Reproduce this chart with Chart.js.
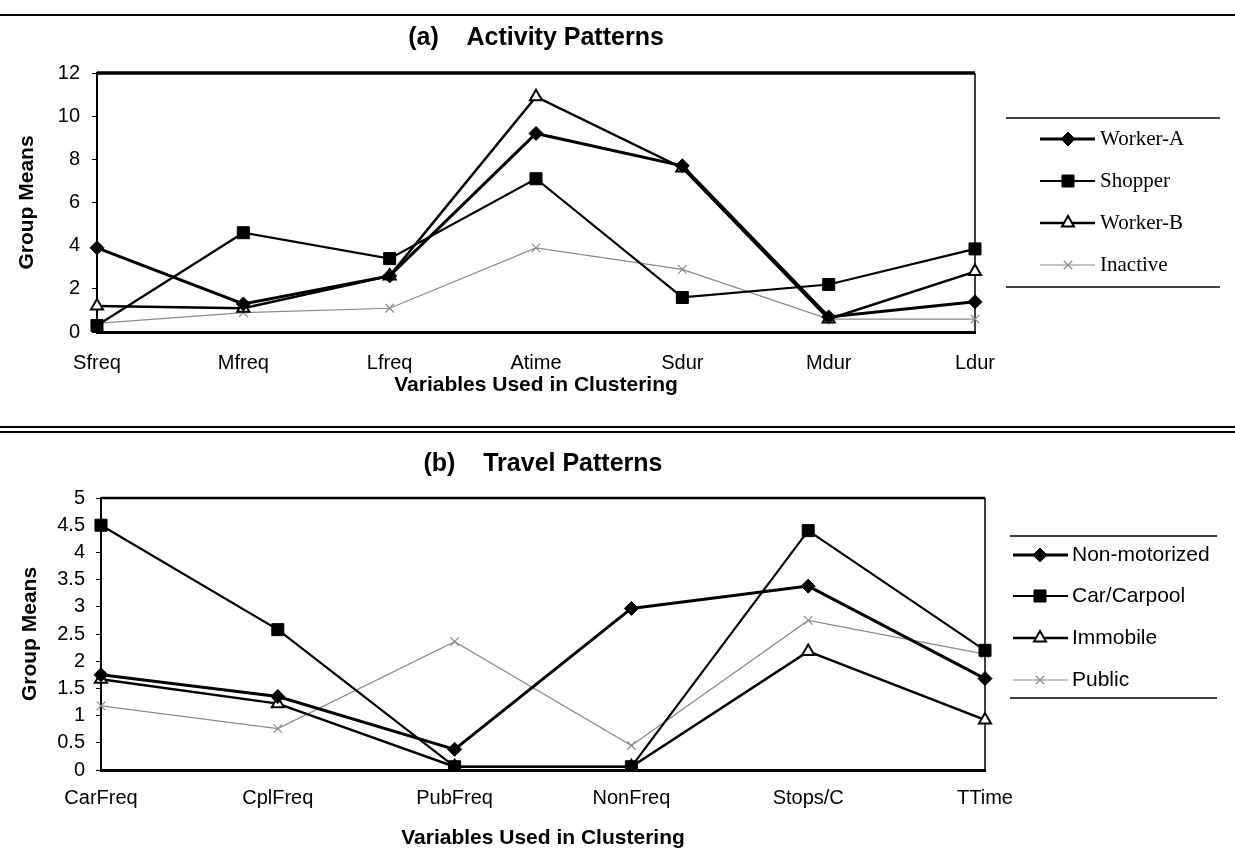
<!DOCTYPE html>
<html>
<head>
<meta charset="utf-8">
<script src="https://cdn.jsdelivr.net/npm/chart.js@4.4.0/dist/chart.umd.min.js"></script>
<style>
  body { margin: 0; background: #fff; width: 1235px; height: 859px; position: relative; overflow: hidden; }
  .rule { position: absolute; left: 0; width: 1235px; height: 2px; background: #000; }
  canvas { position: absolute; left: 0; }
</style>
</head>
<body>
<div class="rule" style="top:14px"></div>
<div class="rule" style="top:426px"></div>
<div class="rule" style="top:431px"></div>
<canvas id="activityChart" width="1235" height="385" style="top:20px"></canvas>
<canvas id="travelChart" width="1235" height="419" style="top:440px"></canvas>
<script>
"use strict";

// (a) activity patterns
const activityVars = ["Sfreq", "Mfreq", "Lfreq", "Atime", "Sdur", "Mdur", "Ldur"];
const workerA = [3.9, 1.3, 2.6, 9.2, 7.7, 0.7, 1.4];
const shopper = [0.3, 4.6, 3.4, 7.1, 1.6, 2.2, 3.85];
const workerB = [1.2, 1.1, 2.6, 10.9, 7.6, 0.6, 2.8];
const inactive = [0.4, 0.9, 1.1, 3.9, 2.9, 0.6, 0.6];
const activityTicks = [0, 2, 4, 6, 8, 10, 12];

// (b) travel patterns
const travelVars = ["CarFreq", "CplFreq", "PubFreq", "NonFreq", "Stops/C", "TTime"];
const nonMotorized = [1.75, 1.35, 0.38, 2.97, 3.38, 1.68];
const carCarpool = [4.5, 2.58, 0.06, 0.06, 4.4, 2.2];
const immobile = [1.67, 1.22, 0.06, 0.06, 2.18, 0.92];
const publicTransit = [1.18, 0.76, 2.36, 0.45, 2.75, 2.13];
const travelTicks = [0, 0.5, 1, 1.5, 2, 2.5, 3, 3.5, 4, 4.5, 5];

const styles = {
  diamond: { color: "#000", width: 3, point: "rectRot", radius: 7, fill: "#000", pointBorder: 1 },
  square: { color: "#000", width: 2.2, point: "rect", radius: 8.5, fill: "#000", pointBorder: 1 },
  triangle: { color: "#000", width: 2.5, point: "triangle", radius: 7, fill: "#fff", pointBorder: 2 },
  cross: { color: "#8a8a8a", width: 1.2, point: "crossRot", radius: 6, fill: "#8a8a8a", pointBorder: 1.2 },
};

Chart.defaults.font.family = "'Liberation Sans', Arial, sans-serif";
Chart.defaults.color = "#000";

const series = (label, data, style) => ({
  label: label,
  data: data,
  borderColor: style.color,
  borderWidth: style.width,
  pointStyle: style.point,
  pointRadius: style.radius,
  pointBackgroundColor: style.fill,
  pointBorderColor: style.color,
  pointBorderWidth: style.pointBorder,
  tension: 0,
  fill: false,
});

const frameAndLegend = {
  id: "frameAndLegend",
  beforeDatasetsDraw(chart, args, opts) {
    const { ctx, chartArea: a } = chart;
    ctx.save();
    ctx.strokeStyle = "#000";
    ctx.lineWidth = opts.topWidth;
    ctx.beginPath();
    ctx.moveTo(a.left, a.top);
    ctx.lineTo(a.right, a.top);
    ctx.stroke();
    ctx.lineWidth = 1.5;
    ctx.beginPath();
    ctx.moveTo(a.right, a.top);
    ctx.lineTo(a.right, a.bottom);
    ctx.stroke();
    ctx.restore();
  },
  afterDraw(chart, args, opts) {
    const ctx = chart.ctx;
    const box = opts.box;
    ctx.save();
    ctx.strokeStyle = "#000";
    ctx.lineWidth = 1.5;
    [box.top, box.bottom].forEach((y) => {
      ctx.beginPath();
      ctx.moveTo(box.left, y);
      ctx.lineTo(box.right, y);
      ctx.stroke();
    });
    ctx.font = box.font;
    ctx.textBaseline = "middle";
    chart.data.datasets.forEach((ds, i) => {
      const y = box.rows[i];
      ctx.strokeStyle = ds.borderColor;
      ctx.lineWidth = ds.borderWidth;
      ctx.beginPath();
      ctx.moveTo(box.lineFrom, y);
      ctx.lineTo(box.lineTo, y);
      ctx.stroke();
      ctx.fillStyle = ds.pointBackgroundColor;
      ctx.strokeStyle = ds.pointBorderColor;
      ctx.lineWidth = ds.pointBorderWidth;
      Chart.helpers.drawPoint(ctx, {
        pointStyle: ds.pointStyle,
        radius: ds.pointRadius,
        rotation: 0,
        borderWidth: ds.pointBorderWidth,
      }, box.marker, y);
      ctx.fillStyle = "#000";
      ctx.fillText(ds.label, box.textX, y);
    });
    ctx.restore();
  },
};

const generateChart = (chartId, labels, datasets, yTicks, cfg) => {
  const ctx = document.getElementById(chartId).getContext("2d");

  new Chart(ctx, {
    type: "line",
    data: { labels: labels, datasets: datasets },
    plugins: [frameAndLegend],
    options: {
      responsive: false,
      animation: false,
      layout: { padding: { left: 0, right: cfg.padRight, top: 0, bottom: 0 } },
      plugins: {
        legend: { display: false },
        tooltip: { enabled: false },
        title: {
          display: true,
          fullSize: false,
          text: cfg.title,
          font: { size: 25, weight: "bold" },
          padding: { top: cfg.titleTop, bottom: cfg.titleBottom },
        },
        frameAndLegend: { topWidth: cfg.topWidth, box: cfg.legend },
      },
      scales: {
        x: {
          offset: false,
          grid: { display: false, drawTicks: false },
          border: { display: true, color: "#000", width: 3 },
          ticks: { font: { size: 20 }, padding: cfg.xTickPad, maxRotation: 0, autoSkip: false },
          title: {
            display: true,
            text: "Variables Used in Clustering",
            font: { size: 21, weight: "bold" },
            padding: { top: 0, bottom: cfg.xTitleBottom },
          },
          afterFit: (scale) => {
            scale.height = cfg.xHeight;
          },
        },
        y: {
          min: yTicks[0],
          max: yTicks[yTicks.length - 1],
          afterBuildTicks: (scale) => {
            scale.ticks = yTicks.map((v) => ({ value: v }));
          },
          grid: { drawOnChartArea: false, drawTicks: true, tickLength: 5, color: "#000" },
          border: { display: true, color: "#000", width: 2 },
          ticks: { font: { size: 20 }, padding: cfg.yTickPad, callback: (v) => String(v) },
          title: {
            display: true,
            text: "Group Means",
            font: { size: 21, weight: "bold" },
            padding: { top: cfg.yTitleTop, bottom: 0 },
          },
          afterFit: (scale) => {
            scale.width = cfg.yWidth;
          },
        },
      },
    },
  });
};

generateChart(
  "activityChart",
  activityVars,
  [
    series("Worker-A", workerA, styles.diamond),
    series("Shopper", shopper, styles.square),
    series("Worker-B", workerB, styles.triangle),
    series("Inactive", inactive, styles.cross),
  ],
  activityTicks,
  {
    title: "(a)    Activity Patterns",
    titleTop: 3,
    titleBottom: 20,
    padRight: 260,
    yWidth: 97,
    xHeight: 73,
    xTickPad: 19,
    xTitleBottom: 7,
    yTickPad: 12,
    yTitleTop: 15,
    topWidth: 3.5,
    legend: {
      left: 1006, right: 1220, top: 98, bottom: 267,
      rows: [119, 161, 203, 245],
      lineFrom: 1040, lineTo: 1095, marker: 1068, textX: 1100,
      font: "21px 'Liberation Serif', 'Times New Roman', serif",
    },
  }
);

generateChart(
  "travelChart",
  travelVars,
  [
    series("Non-motorized", nonMotorized, styles.diamond),
    series("Car/Carpool", carCarpool, styles.square),
    series("Immobile", immobile, styles.triangle),
    series("Public", publicTransit, styles.cross),
  ],
  travelTicks,
  {
    title: "(b)    Travel Patterns",
    titleTop: 9,
    titleBottom: 19,
    padRight: 250,
    yWidth: 101,
    xHeight: 89,
    xTickPad: 16,
    xTitleBottom: 8,
    yTickPad: 11,
    yTitleTop: 18,
    topWidth: 2.5,
    legend: {
      left: 1010, right: 1217, top: 96, bottom: 258,
      rows: [115, 156, 198, 240],
      lineFrom: 1013, lineTo: 1068, marker: 1040, textX: 1072,
      font: "21px 'Liberation Sans', Arial, sans-serif",
    },
  }
);
</script>
</body>
</html>
